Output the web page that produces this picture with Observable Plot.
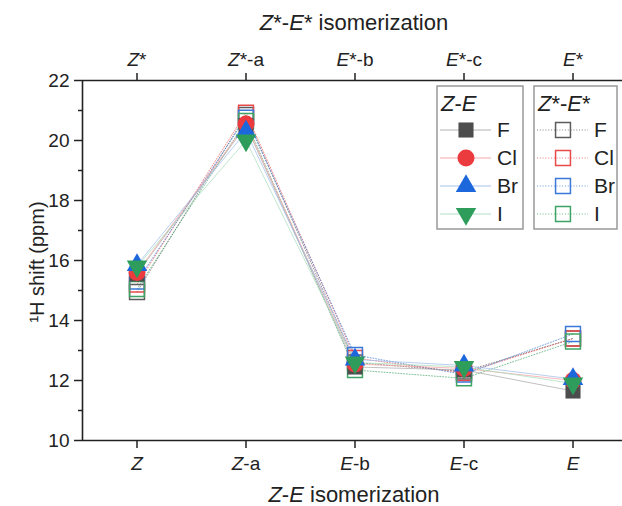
<!DOCTYPE html>
<html><head><meta charset="utf-8">
<script src="https://cdn.jsdelivr.net/npm/d3@7"></script>
<script src="https://cdn.jsdelivr.net/npm/@observablehq/plot@0.6"></script>
<style>
body{margin:0;background:#fff;}
#chart{position:relative;width:622px;height:506px;font-family:"Liberation Sans",Arial,sans-serif;}
</style></head><body><div id="chart"></div>
<script>
// ---- data ----
const stageIndex = [0, 1, 2, 3, 4];
const bottomLabels = ["_Z_", "_Z_-a", "_E_-b", "_E_-c", "_E_"];   // _x_ = italic
const topLabels = ["_Z_*", "_Z_*-a", "_E_*-b", "_E_*-c", "_E_*"];
const halogens = ["F", "Cl", "Br", "I"];
const yTicks = [10, 12, 14, 16, 18, 20, 22];
const yMinor = [11, 13, 15, 17, 19, 21];

// Z-E isomerization (filled markers)
const zeF  = [15.55, 20.50, 12.45, 12.35, 11.65];
const zeCl = [15.60, 20.55, 12.55, 12.40, 12.00];
const zeBr = [15.85, 20.30, 12.70, 12.50, 12.05];
const zeI  = [15.80, 20.00, 12.60, 12.45, 11.90];
// Z*-E* isomerization (open squares)
const zsF  = [14.95, 20.85, 12.60, 12.30, 13.40];
const zsCl = [15.20, 20.93, 12.75, 12.25, 13.40];
const zsBr = [15.30, 20.76, 12.85, 12.20, 13.55];
const zsI  = [15.05, 20.65, 12.35, 12.07, 13.30];

const markColor = {F: "#4d4d4d", Cl: "#ec3b3f", Br: "#1d67dd", I: "#2e9d5c"};
const openColor = {F: "#5c5c5c", Cl: "#e84a4a", Br: "#3b78d8", I: "#3ea466"};
const lineColor = {F: "#a8a8a8", Cl: "#f4a0a0", Br: "#9dbcec", I: "#a6dcbc"};
const symbols = {F: "square", Cl: "circle", Br: "triangle", I: "triangle"};

const zeRows = [], zsRows = [];
[zeF, zeCl, zeBr, zeI].forEach((arr, k) => arr.forEach((v, i) => zeRows.push({hal: halogens[k], i: stageIndex[i], v})));
[zsF, zsCl, zsBr, zsI].forEach((arr, k) => arr.forEach((v, i) => zsRows.push({hal: halogens[k], i: stageIndex[i], v})));

const font = '"Liberation Sans",Arial,sans-serif';

const filledMarks = halogens.map(h => Plot.dot(zeRows.filter(d => d.hal === h), {
  x: "i", y: "v", symbol: symbols[h], fill: markColor[h], stroke: "none",
  r: (h === "Br" || h === "I") ? 7.6 : 8.5, rotate: h === "I" ? 180 : 0
}));

const chart = Plot.plot({
  width: 622, height: 506,
  marginLeft: 82, marginRight: 0, marginTop: 80, marginBottom: 66,
  style: {fontFamily: font, fontSize: "19px", color: "#222", background: "#fff"},
  x: {domain: [-0.5, 4.5], range: [82, 627]},
  y: {domain: [10, 22]},
  color: {type: "identity"},
  marks: [
    Plot.line(zsRows, {x: "i", y: "v", z: "hal", stroke: d => openColor[d.hal], strokeWidth: 0.9, strokeDasharray: "1,1.8", strokeOpacity: 0.75}),
    Plot.line(zeRows, {x: "i", y: "v", z: "hal", stroke: d => lineColor[d.hal], strokeWidth: 0.9, strokeOpacity: 0.8}),
    Plot.dot(zsRows, {x: "i", y: "v", symbol: "square", r: 8.4, fill: "none", stroke: d => openColor[d.hal], strokeWidth: 1.5}),
    ...filledMarks,
    Plot.ruleY([10, 22], {stroke: "#222", strokeWidth: 1.6}),
    Plot.ruleX([-0.5], {stroke: "#222", strokeWidth: 1.6}),
    Plot.axisX(stageIndex, {anchor: "bottom", tickFormat: i => bottomLabels[i], tickSize: 8, tickPadding: 8, strokeWidth: 1.5, label: null}),
    Plot.axisX(stageIndex, {anchor: "top", tickFormat: i => topLabels[i], tickSize: 8, tickPadding: 7, strokeWidth: 1.5, label: null}),
    Plot.axisY(yTicks, {tickSize: 8, tickPadding: 5, strokeWidth: 1.5, label: null, tickFormat: d => String(d)}),
    Plot.axisY(yMinor, {tickSize: 4, strokeWidth: 1.5, tickFormat: () => "", label: null})
  ]
});
document.getElementById("chart").appendChild(chart);

// force tick label size
chart.querySelectorAll('g[aria-label$="tick label"]').forEach(g => {
  g.setAttribute("font-size", "19");
  g.style.fontSize = "19px";
  g.querySelectorAll("text").forEach(t => { t.setAttribute("font-size", "19"); t.style.fontSize = "19px"; });
});

// rich text helper: "_x_" segments italic
function rich(el, str) {
  el.textContent = "";
  str.split("_").forEach((seg, k) => {
    if (!seg) return;
    const t = document.createElementNS("http://www.w3.org/2000/svg", "tspan");
    t.textContent = seg;
    if (k % 2 === 1) t.setAttribute("font-style", "italic");
    el.appendChild(t);
  });
}
chart.querySelectorAll("text").forEach(t => { if (t.textContent.includes("_")) rich(t, t.textContent); });

const svg = d3.select(chart);
// axis titles
const tTop = svg.append("text").attr("x", 354).attr("y", 30).attr("text-anchor", "middle").attr("font-size", 22).attr("fill", "#222").node();
rich(tTop, "_Z_*-_E_* isomerization");
const tBot = svg.append("text").attr("x", 354).attr("y", 502).attr("text-anchor", "middle").attr("font-size", 22).attr("fill", "#222").node();
rich(tBot, "_Z_-_E_ isomerization");
svg.append("text").attr("transform", "translate(44,262) rotate(-90)").attr("text-anchor", "middle")
  .attr("font-size", 20).attr("fill", "#222").text("¹H shift (ppm)");

// legends
function legend(x0, w, title, filled) {
  const g = svg.append("g").attr("text-anchor", "start");
  g.append("rect").attr("x", x0).attr("y", 86).attr("width", w).attr("height", 143)
    .attr("fill", "#fff").attr("stroke", "#999").attr("stroke-width", 1.5);
  const tt = g.append("text").attr("x", x0 + 4).attr("y", 111).attr("font-size", 22).attr("fill", "#222").node();
  rich(tt, title);
  halogens.forEach((h, k) => {
    const y = 130 + k * 28;
    const mx = x0 + 29;
    g.append("line").attr("x1", x0 + 3).attr("x2", x0 + 54).attr("y1", y).attr("y2", y)
      .attr("stroke", filled ? lineColor[h] : openColor[h]).attr("stroke-width", 1)
      .attr("stroke-opacity", filled ? 0.9 : 0.75)
      .attr("stroke-dasharray", filled ? null : "1,1.8");
    if (filled) {
      const sym = {F: d3.symbolSquare, Cl: d3.symbolCircle, Br: d3.symbolTriangle, I: d3.symbolTriangle}[h];
      const r = h === "Br" || h === "I" ? 7.6 : 8.5;
      g.append("path").attr("d", d3.symbol(sym, Math.PI * r * r)())
        .attr("transform", `translate(${mx},${y})` + (h === "I" ? " rotate(180)" : ""))
        .attr("fill", markColor[h]);
    } else {
      g.append("path").attr("d", d3.symbol(d3.symbolSquare, Math.PI * 8.4 * 8.4)())
        .attr("transform", `translate(${mx},${y})`).attr("fill", "none")
        .attr("stroke", openColor[h]).attr("stroke-width", 1.5);
    }
    g.append("text").attr("x", x0 + 60).attr("y", y + 7).attr("font-size", 21).attr("fill", "#222").text(h);
  });
}
legend(437, 86, "_Z_-_E_", true);
legend(534, 83, "_Z_*-_E_*", false);
</script></body></html>
